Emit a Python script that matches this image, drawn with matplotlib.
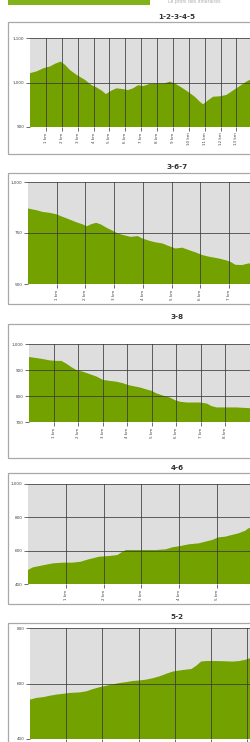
import matplotlib
matplotlib.use("Agg")
import matplotlib.pyplot as plt
from matplotlib.patches import Rectangle

W, H = 250, 742
fig = plt.figure(figsize=(W / 100, H / 100), dpi=100)
fig.patch.set_facecolor("white")

GREEN = "#72a100"
PLOT_BG = "#dedede"
GRID = "#3a3a3a"

# ---- data (distance in km, elevation in m) ----
titles = ["1-2-3-4-5", "3-6-7", "3-8", "4-6", "5-2"]

dist_1 = [0, 0.42, 0.84, 1.26, 1.57, 1.93, 2.2, 2.52, 2.94, 3.46, 3.88, 4.19, 4.51, 4.78, 5.14, 5.45,
          5.87, 6.18, 6.5, 6.81, 7.13, 7.55, 7.97, 8.39, 8.81, 9.12, 9.54, 9.96, 10.38, 10.69, 10.9,
          11.22, 11.53, 11.95, 12.37, 12.79, 13.21, 13.63, 13.84, 14.5, 16, 18, 19.4]
elev_1 = [1021, 1025, 1032, 1036, 1042, 1047, 1040, 1028, 1017, 1006, 994, 989, 982, 974, 982, 987,
          985, 983, 987, 994, 992, 997, 998, 997, 1002, 998, 989, 979, 968, 957, 951,
          960, 968, 969, 972, 982, 992, 1002, 1006, 1010, 1005, 995, 990]

dist_2 = [0, 0.29, 0.52, 0.75, 0.98, 1.21, 1.45, 1.68, 1.91, 2.05, 2.2, 2.37, 2.54, 2.72, 2.95, 3.12,
          3.35, 3.58, 3.82, 3.99, 4.22, 4.45, 4.68, 4.91, 5.14, 5.38, 5.61, 5.84, 6.07, 6.3, 6.65,
          6.88, 7.05, 7.23, 7.46, 7.69, 8.5, 9.5, 10.8]
elev_2 = [870, 862, 853, 849, 842, 829, 816, 803, 792, 783, 793, 800, 792, 777, 761, 748,
          739, 731, 735, 723, 712, 704, 699, 686, 674, 678, 666, 655, 642, 634, 625,
          617, 609, 594, 593, 601, 590, 575, 560]

dist_3 = [0, 0.3, 0.57, 0.84, 1.12, 1.32, 1.53, 1.73, 1.93, 2.21, 2.48, 2.75, 3.02, 3.3, 3.57, 3.84,
          4.05, 4.25, 4.52, 4.8, 5.0, 5.2, 5.48, 5.75, 5.95, 6.16, 6.43, 6.98, 7.25, 7.45, 7.66,
          8.47, 9.02, 10, 11, 12.6]
elev_3 = [950, 946, 942, 937, 935, 935, 924, 911, 900, 893, 884, 875, 862, 858, 855, 849,
          842, 838, 833, 825, 820, 810, 801, 794, 784, 778, 775, 775, 771, 761, 756,
          756, 753, 750, 745, 740]

dist_4 = [0, 0.13, 0.31, 0.48, 0.66, 0.92, 1.18, 1.4, 1.54, 1.71, 1.89, 2.15, 2.37, 2.46, 2.59, 3.03,
          3.38, 3.64, 3.82, 4.04, 4.25, 4.52, 4.69, 4.87, 5.04, 5.22, 5.39, 5.57, 5.75, 5.83,
          6.5, 7.5, 8.2]
elev_4 = [484, 500, 508, 516, 524, 528, 528, 534, 544, 554, 564, 568, 574, 588, 604, 604,
          604, 608, 620, 628, 638, 644, 654, 664, 680, 684, 694, 704, 720, 734,
          760, 790, 800]

dist_5 = [0, 0.18, 0.37, 0.55, 0.73, 0.92, 1.1, 1.38, 1.56, 1.74, 1.93, 2.11, 2.29, 2.48, 2.66, 2.84,
          3.03, 3.21, 3.39, 3.58, 3.76, 3.94, 4.13, 4.31, 4.45, 4.59, 4.72, 4.86, 5.14, 5.41, 5.6,
          5.78, 5.96, 6.06, 7, 8, 8.6]
elev_5 = [542, 548, 551, 556, 560, 563, 566, 568, 572, 580, 587, 592, 597, 602, 605, 609,
          611, 614, 619, 626, 635, 643, 647, 650, 652, 664, 679, 681, 681, 680, 679,
          681, 686, 691, 700, 710, 715]

yticks_1 = [900, 1000, 1100]
yticks_2 = [500, 750, 1000]
yticks_3 = [700, 800, 900, 1000]
yticks_4 = [400, 600, 800, 1000]
yticks_5 = [400, 600, 800]

dists = [dist_1, dist_2, dist_3, dist_4, dist_5]
elevs = [elev_1, elev_2, elev_3, elev_4, elev_5]
yticks = [yticks_1, yticks_2, yticks_3, yticks_4, yticks_5]

# ---- layout in pixels: (box top, box bottom, plot left, plot top, plot bottom, title y, x range)
layout = [
    (22, 154, 30, 38, 127, 17, 19.4),
    (173, 304, 28, 182, 284, 167, 10.8),
    (324, 458, 29, 344, 422, 317, 12.6),
    (473, 604, 28, 484, 584, 468, 8.2),
    (623, 760, 30, 628, 739, 617, 8.5),
]
BOX_L, BOX_R, PLOT_R = 8, 346, 338


def fx(px):
    return px / W


def fy(py):
    return 1 - py / H


# top banner
fig.patches.append(Rectangle((fx(8), fy(4.5)), fx(142), 4.5 / H, transform=fig.transFigure,
                             facecolor="#80b31a", edgecolor="none"))
fig.text(fx(168), fy(1.5), "Le profil des itinéraires", fontsize=3.3, color="#b0b0b0",
         ha="left", va="center")

for (btop, bbot, pl, pt, pb, ty, xmax), title, d, e, yt in zip(layout, titles, dists, elevs, yticks):
    fig.patches.append(Rectangle((fx(BOX_L), fy(bbot)), fx(BOX_R - BOX_L), (bbot - btop) / H,
                                 transform=fig.transFigure, facecolor="white",
                                 edgecolor="#a8a8a8", linewidth=0.9, zorder=-5))
    fig.text(fx((BOX_L + BOX_R) / 2), fy(ty), title, fontsize=5.2, fontweight="bold",
             ha="center", va="center", color="#333333")
    ax = fig.add_axes([fx(pl), fy(pb), fx(PLOT_R - pl), (pb - pt) / H])
    ax.set_zorder(2)
    ax.set_facecolor(PLOT_BG)
    ax.fill_between(d, yt[0], e, color=GREEN, linewidth=0)
    ax.set_xlim(0, xmax)
    ax.set_ylim(yt[0], yt[-1])
    ax.set_yticks(yt)
    ax.set_yticklabels([f"{v:,}" for v in yt])
    xt = list(range(1, int(xmax) + 1))
    ax.set_xticks(xt)
    # labels only for ticks that fall inside the visible (cropped) image
    px_per_km = (PLOT_R - pl) / xmax
    visible = pb + 14 < H
    ax.set_xticklabels([f"{v} km" if (visible and pl + v * px_per_km < W - 4) else ""
                        for v in xt], rotation=90)
    ax.set_axisbelow(False)
    ax.grid(True, color=GRID, linewidth=0.7, alpha=0.8)
    for s in ax.spines.values():
        s.set_visible(False)
    ax.tick_params(axis="both", length=3, width=0.6, color="#555555", labelsize=3,
                   labelcolor="#444444", pad=1)

fig.savefig("out.png", dpi=100)
